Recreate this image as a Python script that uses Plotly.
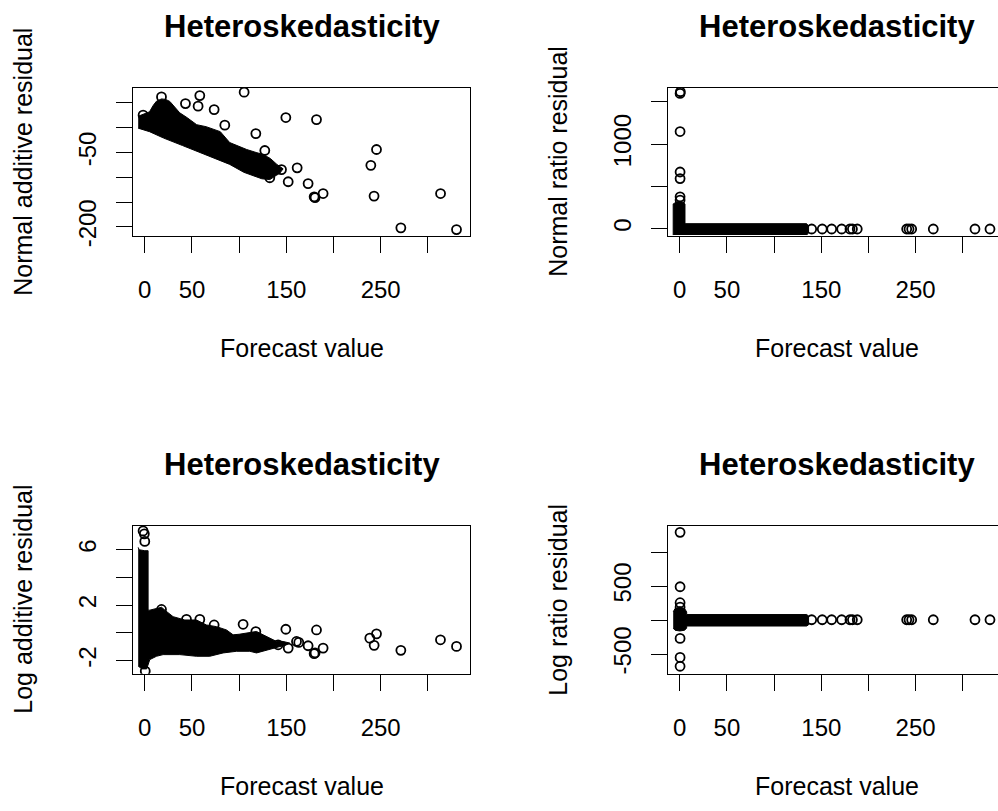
import plotly.graph_objects as go

W, H = 998, 811

# ---------------- data ----------------
# Panel 1: Normal additive residual vs forecast
p1_blob_x = [-7, 0, 5, 9, 12.4, 17.7, 22, 26.5, 32, 37, 45, 55, 65, 72, 80, 90, 100, 108, 118, 125.4, 133, 140, 146.6,
             143, 139.6, 132.5, 124, 118.4, 105, 90, 75, 55, 40, 20, 5, -7]
p1_blob_y = [23, 28, 32, 45, 53.4, 58, 57, 53, 42, 30, 20, 6, 2, -3, -8, -30, -38, -44, -50, -54, -62, -74, -83,
             -92, -96, -104.6, -103, -99, -90, -74, -63, -47.4, -36, -21, -8, -1]
p1_pts_x = [105.3, 58.3, 56.5, 43.1, 17.7, 73.5, 149.5, 117.7, -1.8, 84.8, 127.2, 144.9, 152, 161.5, 132.5,
            182, 245.6, 239.6, 173.1, 179.5, 180.5, 189, 243, 313.5, 271.4, 330.4]
p1_pts_y = [71.6, 64.7, 43.3, 48.6, 62, 36.5, 20.4, -11.9, 25.2, 5, -46, -84.5, -109, -81, -101,
            16.3, -44, -76, -112.7, -139.5, -141, -132.8, -138, -132.8, -202, -205.4]

# Panel 2: Normal ratio residual vs forecast
p2_blob_x = [-7, -7, -3, 2, 5.5, 5.5, 134.5, 136.5, 136.5, 134.5]
p2_blob_y = [-77, 292, 318, 318, 292, 58, 58, 30, -50, -77]
p2_pts_x = [0.3, 0.6, 0.3, 0.3, 0.3, 0.3, 0.3,
            139.8, 151, 161, 171.6, 180.4, 183, 188.1, 240.5, 243, 245.8, 268.7, 312.9, 328.8]
p2_pts_y = [1600, 1620, 1149, 670, 592, 376, 337,
            -5, -5, -5, -5, -5, -5, -5, -5, -5, -5, -5, -5, -5]

# Panel 3: Log additive residual vs forecast
p3_blob_x = [-7, -6, 0, 3.5, 3.5, 5.3, 12.4, 17.7, 22, 30, 42.4, 54.8, 65.4, 76, 86.6, 93.6, 100, 107.8, 118.4,
             125.4, 132.5, 139.6, 146.6, 153.7, 150.2, 143.1, 136, 125.4, 118.4, 111.3, 97.2, 83, 68.9, 54.8,
             37.1, 19.4, 12.4, 5.3, 2, -3, -7]
p3_blob_y = [6.17, 6.0, 5.93, 5.93, 1.64, 1.64, 1.76, 1.85, 1.6, 1.17, 0.93, 0.93, 0.57, 0.45, 0.21, -0.14, -0.1,
             -0.02, 0.1, -0.14, -0.38, -0.62, -0.62, -0.74, -0.86, -0.98, -1.1, -1.33, -1.45, -1.33, -1.33,
             -1.45, -1.69, -1.69, -1.57, -1.57, -1.69, -1.93, -2.6, -2.6, -2.4]
p3_pts_x = [-1.8, -0.5, 0, 0.5, 17.7, 44.2, 58.3, 73.5, 104.2, 117.7, 149.5, 160.8, 152, 141.3, 163.2,
            173.1, 182, 179.5, 180.5, 189, 238.5, 245.6, 243.1, 271.4, 313.4, 330.4]
p3_pts_y = [7.36, 7.15, 6.6, -2.76, 1.69, 0.97, 0.97, 0.57, 0.62, 0.09, 0.26, -0.62, -1.1, -0.86, -0.69,
            -0.93, 0.21, -1.5, -1.45, -1.1, -0.38, -0.07, -0.9, -1.26, -0.5, -0.98]

# Panel 4: Log ratio residual vs forecast
p4_blob_x = [-7, -5, 0, 5, 7.3, 7.3, 134.5, 136.5, 136.5, 134.5, 7.3, 7.3, 5, 0, -5, -7]
p4_blob_y = [120, 170, 193, 170, 120, 81, 81, 60, -70, -88, -88, -120, -150, -161, -150, -120]
p4_pts_x = [0.3, 0.3, 0.3, 0.3, 0.3, 0.3, 0.3,
            139.8, 151, 161, 171.6, 180.4, 183, 188.1, 240.5, 243, 245.8, 268.7, 312.9, 328.8]
p4_pts_y = [1290, 490, 255, 190, -270, -550, -680,
            4, 4, 4, 4, 4, 4, 4, 4, 4, 4, 4, 4, 4]

x_ticks = [0, 50, 100, 150, 200, 250, 300]
x_ticktext = ["0", "50", "", "150", "", "250", ""]
y1_ticks = [-200, -150, -100, -50, 0, 50]
y1_ticktext = ["-200", "", "", "-50", "", ""]
y2_ticks = [0, 500, 1000, 1500]
y2_ticktext = ["0", "", "1000", ""]
y3_ticks = [-2, 0, 2, 4, 6]
y3_ticktext = ["-2", "", "2", "", "6"]
y4_ticks = [-500, 0, 500, 1000]
y4_ticktext = ["-500", "", "500", ""]

title_text = "Heteroskedasticity"
xlab = "Forecast value"
ylabs = ["Normal additive residual", "Normal ratio residual", "Log additive residual", "Log ratio residual"]

# ---------------- layout geometry (pixels) ----------------
FONT = "Liberation Sans, Arial, sans-serif"
boxes = {  # left, right, top, bottom in px
    1: (133, 470, 89, 239),
    2: (668, 998, 89, 239),
    3: (133, 470, 533, 683),
    4: (668, 998, 533, 683),
}
xranges = {1: [-12.5, 344.7], 2: [-12.5, 337.3], 3: [-12.5, 344.7], 4: [-12.5, 337.3]}
yranges = {1: [-217.9, 80.4], 2: [-85, 1667], 3: [-2.95, 7.73], 4: [-790, 1387]}
yticks = {1: (y1_ticks, y1_ticktext), 2: (y2_ticks, y2_ticktext), 3: (y3_ticks, y3_ticktext), 4: (y4_ticks, y4_ticktext)}

fig = go.Figure()

data = {
    1: (p1_blob_x, p1_blob_y, p1_pts_x, p1_pts_y),
    2: (p2_blob_x, p2_blob_y, p2_pts_x, p2_pts_y),
    3: (p3_blob_x, p3_blob_y, p3_pts_x, p3_pts_y),
    4: (p4_blob_x, p4_blob_y, p4_pts_x, p4_pts_y),
}

for k, (bx, by, px, py) in data.items():
    xa = "x" if k == 1 else f"x{k}"
    ya = "y" if k == 1 else f"y{k}"
    fig.add_trace(go.Scatter(x=bx, y=by, mode="lines", fill="toself", fillcolor="black",
                             line=dict(color="black", width=1), xaxis=xa, yaxis=ya,
                             showlegend=False, hoverinfo="skip"))
    fig.add_trace(go.Scatter(x=px, y=py, mode="markers",
                             marker=dict(symbol="circle-open", size=9, color="black",
                                         line=dict(width=1.8, color="black")),
                             xaxis=xa, yaxis=ya, showlegend=False))

layout = dict(width=W, height=H, margin=dict(l=0, r=0, t=0, b=0),
              paper_bgcolor="white", plot_bgcolor="white", showlegend=False)

annotations = []
for k, (l, r, t, b) in boxes.items():
    xk = "xaxis" if k == 1 else f"xaxis{k}"
    yk = "yaxis" if k == 1 else f"yaxis{k}"
    right_clipped = (k in (2, 4))
    layout[xk] = dict(domain=[l / W, min(r / W, 1.0)], range=xranges[k],
                      anchor="y" if k == 1 else f"y{k}",
                      showgrid=False, zeroline=False, showline=True, linecolor="black", linewidth=1.3,
                      mirror=True, ticks="outside", ticklen=16, tickwidth=1.3, tickcolor="black",
                      tickvals=x_ticks, ticktext=x_ticktext, ticklabelstandoff=16,
                      tickfont=dict(family=FONT, size=24, color="black"))
    tv, tt = yticks[k]
    layout[yk] = dict(domain=[1 - b / H, 1 - t / H], range=yranges[k],
                      anchor="x" if k == 1 else f"x{k}",
                      showgrid=False, zeroline=False, showline=True, linecolor="black", linewidth=1.3,
                      mirror=(not right_clipped), ticks="outside", ticklen=16, tickwidth=1.3, tickcolor="black",
                      tickvals=tv, ticktext=tt, tickangle=-90, ticklabelstandoff=10,
                      tickfont=dict(family=FONT, size=24, color="black"))
    cx = (l + (470 - 133) / 2) / W
    # title
    annotations.append(dict(text=f"<b>{title_text}</b>", x=cx, y=1 - (t - 62) / H,
                            xref="paper", yref="paper", showarrow=False, xanchor="center", yanchor="middle",
                            font=dict(family=FONT, size=31, color="black")))
    # x label
    annotations.append(dict(text=xlab, x=cx, y=1 - (b + 114) / H,
                            xref="paper", yref="paper", showarrow=False, xanchor="center", yanchor="middle",
                            font=dict(family=FONT, size=25, color="black")))
    # y label
    annotations.append(dict(text=ylabs[k - 1], x=(l - 110) / W, y=1 - ((t + b) / 2) / H,
                            xref="paper", yref="paper", showarrow=False, xanchor="center", yanchor="middle",
                            textangle=-90, font=dict(family=FONT, size=25, color="black")))

layout["annotations"] = annotations
fig.update_layout(**layout)
fig.write_html("out.html")
